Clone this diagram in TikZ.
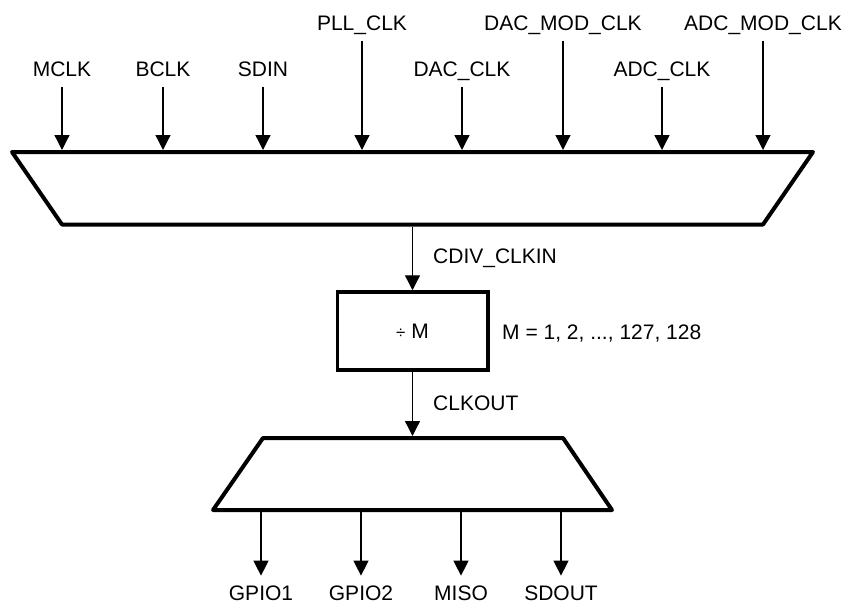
\documentclass[tikz,border=0pt]{standalone}
\usepackage{fontspec}
\setmainfont{Liberation Sans}
\usetikzlibrary{arrows.meta}
\begin{document}
\begin{tikzpicture}[x=1pt,y=-1pt,
  lbl/.style={inner sep=0pt, text depth=0pt, anchor=base, font=\fontsize{21}{24}\selectfont},
  arr/.style={line width=1.3pt, -{Triangle[length=15pt,width=15pt]}},
  mux/.style={draw, line width=4pt, line join=round},
  divbox/.style={draw, line width=3.5pt, minimum width=150.5pt, minimum height=78pt, inner sep=0pt, font=\fontsize{21}{24}\selectfont}
]
\useasboundingbox (0,0) rectangle (846,605);

% top multiplexer
\path[mux] (12,152) coordinate (tl) -- (813,152) coordinate (tr) -- (763,224.5) coordinate (br) -- (62,224.5) coordinate (bl) -- cycle;

% inputs
\foreach \i/\x/\t/\b in {1/62/MCLK/76.5, 2/163/BCLK/76.5, 3/263/SDIN/76.5, 4/362/PLL\_CLK/30.7, 5/462/DAC\_CLK/76.5, 6/563/DAC\_MOD\_CLK/30.7, 7/662/ADC\_CLK/76.5, 8/763/ADC\_MOD\_CLK/30.7}{
  \node[lbl] (in\i) at (\x,\b) {\t};
  \coordinate (ti\i) at (\x,150);
  \draw[arr, shorten <=10pt] (in\i.south) -- (ti\i);
}

% divider
\coordinate (muxout) at (412.5,226.5);
\node[divbox] (div) at (412.5,331) {{\fontsize{17}{18}\selectfont ÷} M};
\draw[arr] (muxout) -- (div.north);
\node[lbl, anchor=base west] (cdiv) at (433,263) {CDIV\_CLKIN};
\node[lbl, anchor=base west] (mrange) at (502,339) {M = 1, 2, ..., 127, 128};
\node[lbl, anchor=base west] (clkout) at (433,410.5) {CLKOUT};

% bottom demultiplexer
\coordinate (demuxin) at (412.5,436);
\draw[arr] (div.south) -- (demuxin);
\path[mux] (263,438) coordinate (dtl) -- (563,438) coordinate (dtr) -- (612,510) coordinate (dbr) -- (213,510) coordinate (dbl) -- cycle;

% outputs
\foreach \i/\x/\t in {1/261/GPIO1, 2/361/GPIO2, 3/461/MISO, 4/561/SDOUT}{
  \coordinate (so\i) at (\x,512);
  \node[lbl] (out\i) at (\x,600.5) {\t};
  \draw[arr, shorten >=10pt] (so\i) -- (out\i.north);
}
\end{tikzpicture}
\end{document}
